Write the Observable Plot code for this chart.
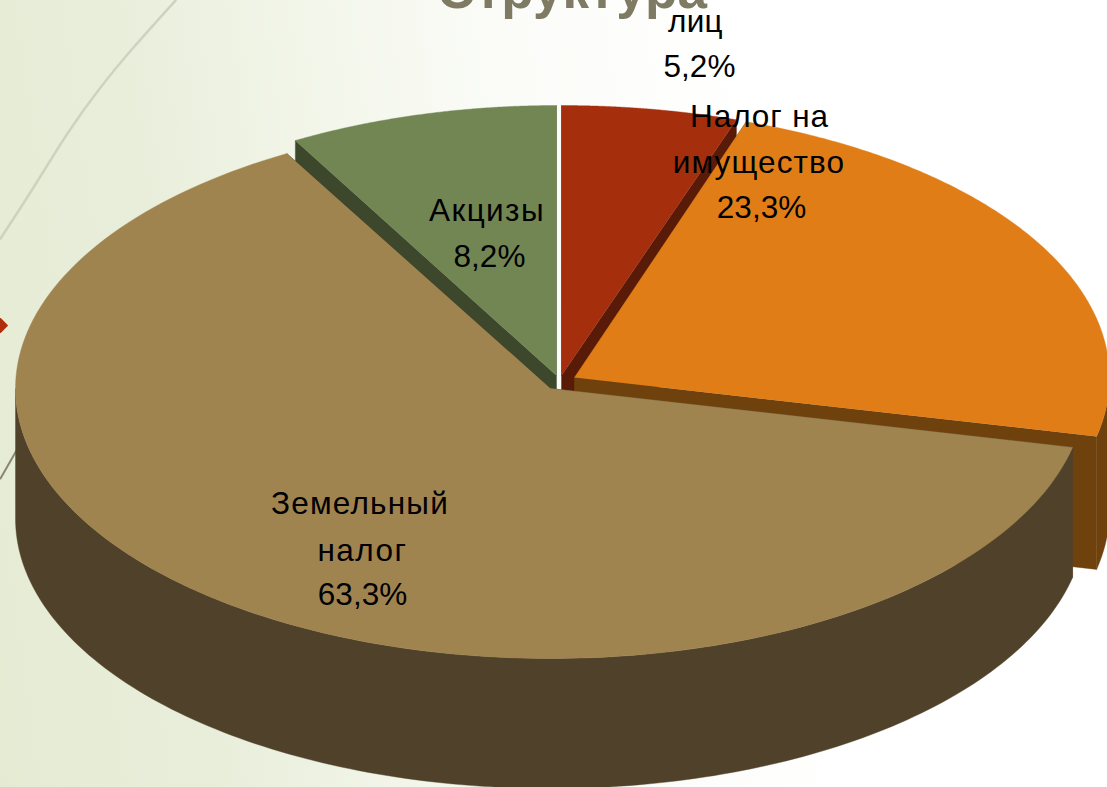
<!DOCTYPE html>
<html lang="ru">
<head>
<meta charset="utf-8">
<script src="https://cdn.jsdelivr.net/npm/d3@7"></script>
<script src="https://cdn.jsdelivr.net/npm/@observablehq/plot@0.6"></script>
<style>
html,body{margin:0;padding:0;width:1107px;height:787px;overflow:hidden;
background:linear-gradient(82deg,#e5ebd3 0,#e9eedb 220px,#f3f6ea 420px,#fbfcf8 600px,#fff 850px,#fff 100%);}
svg{display:block;background:transparent!important;}
</style>
</head>
<body>
<div id="chart"></div>
<script>
// Data (slices clockwise from 12 o'clock)
const categories = [["лиц"],["Налог на","имущество"],["Земельный","налог"],["Акцизы"]];
const values = [5.2, 23.3, 63.3, 8.2];
const valueLabels = ["5,2%","23,3%","63,3%","8,2%"];
const topColors = ["#a52e0d","#e07d17","#a0844f","#728654"];
const wallColors = ["#591a08","#6f420d","#50412a","#3d472c"];
const title = "Структура";

// Layout of the exploded 3-D pie
const centers = [[561,375],[574,377],[550,388],[556,375]];
const radiiX = [545,535,535,530];
const radiusY = 270;
const depths = [130,133,130,130];
const nameX = [[695],[759,758.5],[359.5,362],[486.5]];
const nameY = [[21],[116,162],[503,550],[210]];
const nameSpacing = [[0.3],[0.9,1.1],[1.2,1.5],[1.4]];
const valueX = [699,761,362,489];
const valueY = [66,207,594,256];
const paintOrder = [3,0,1,2];

const W = 1107, H = 787;
const total = d3.sum(values);
const cum = d3.cumsum(values);
const startOf = i => (i ? cum[i-1] : 0) / total * 2 * Math.PI;
const endOf = i => cum[i] / total * 2 * Math.PI;
const pt = (i,t,dz=0) => ({
  x: centers[i][0] + radiiX[i]*Math.sin(t),
  y: centers[i][1] - radiusY*Math.cos(t) + dz
});
const arc = (i,a,b,dz=0) => d3.range(0,161).map(k => pt(i,a+(b-a)*k/160,dz));
const apex = (i,dz=0) => ({x:centers[i][0], y:centers[i][1]+dz});
const poly = (pts,fill) => Plot.line(pts,{x:"x",y:"y",fill,stroke:fill,strokeWidth:0.4,curve:"linear"});

const marks = [];
// background swooshes
marks.push(Plot.line([[175,0],[133,47],[100,87],[67,133],[33,187],[0,238]],{x:d=>d[0],y:d=>d[1],stroke:"#d0d2bf",strokeWidth:2.5,curve:"natural"}));
marks.push(Plot.line([[0,478],[16,450]],{x:d=>d[0],y:d=>d[1],stroke:"#8a8778",strokeWidth:2}));
marks.push(Plot.dot([[0,325]],{x:d=>d[0],y:d=>d[1],symbol:"diamond2",r:6,fill:"#b02e0c",stroke:"#b02e0c",strokeWidth:1.5,strokeLinejoin:"round"}));

for (const i of paintOrder) {
  const a = startOf(i), b = endOf(i), d = depths[i];
  for (const t of [a,b]) {
    marks.push(poly([apex(i),pt(i,t),pt(i,t,d),apex(i,d)],wallColors[i]));
  }
  const f0 = Math.max(a,Math.PI/2), f1 = Math.min(b,1.5*Math.PI);
  if (f1 > f0) marks.push(poly([...arc(i,f0,f1),...arc(i,f0,f1,d).reverse()],wallColors[i]));
  marks.push(poly([apex(i),...arc(i,a,b)],topColors[i]));
}

// title, clipped by the top of the picture as in the reference
marks.push(Plot.text([title],{x:()=>571.5,y:()=>7,text:d=>d,fill:"#7f7a63",fontSize:53,fontWeight:"bold",textAnchor:"middle",lineAnchor:"bottom",fontFamily:"Liberation Sans"}));

const label = (text,x,y,sp) => Plot.text([text],{
  x:()=>x,y:()=>y,text:d=>d,fill:"#000",fontSize:31.5,
  fontFamily:"Liberation Sans",lineAnchor:"middle",textAnchor:"middle",
  render(index,scales,vals,dims,ctx,next){
    const g = next(index,scales,vals,dims,ctx);
    g.style.letterSpacing = sp+"px";
    return g;
  }
});
categories.forEach((lines,i)=>{
  lines.forEach((s,j)=>marks.push(label(s,nameX[i][j],nameY[i][j],nameSpacing[i][j])));
  marks.push(label(valueLabels[i],valueX[i],valueY[i],0));
});

document.getElementById("chart").append(Plot.plot({
  width:W,height:H,margin:0,
  x:{domain:[0,W],range:[0,W],axis:null},
  y:{domain:[0,H],range:[0,H],axis:null},
  style:{background:"transparent"},
  marks
}));
</script>
</body>
</html>
